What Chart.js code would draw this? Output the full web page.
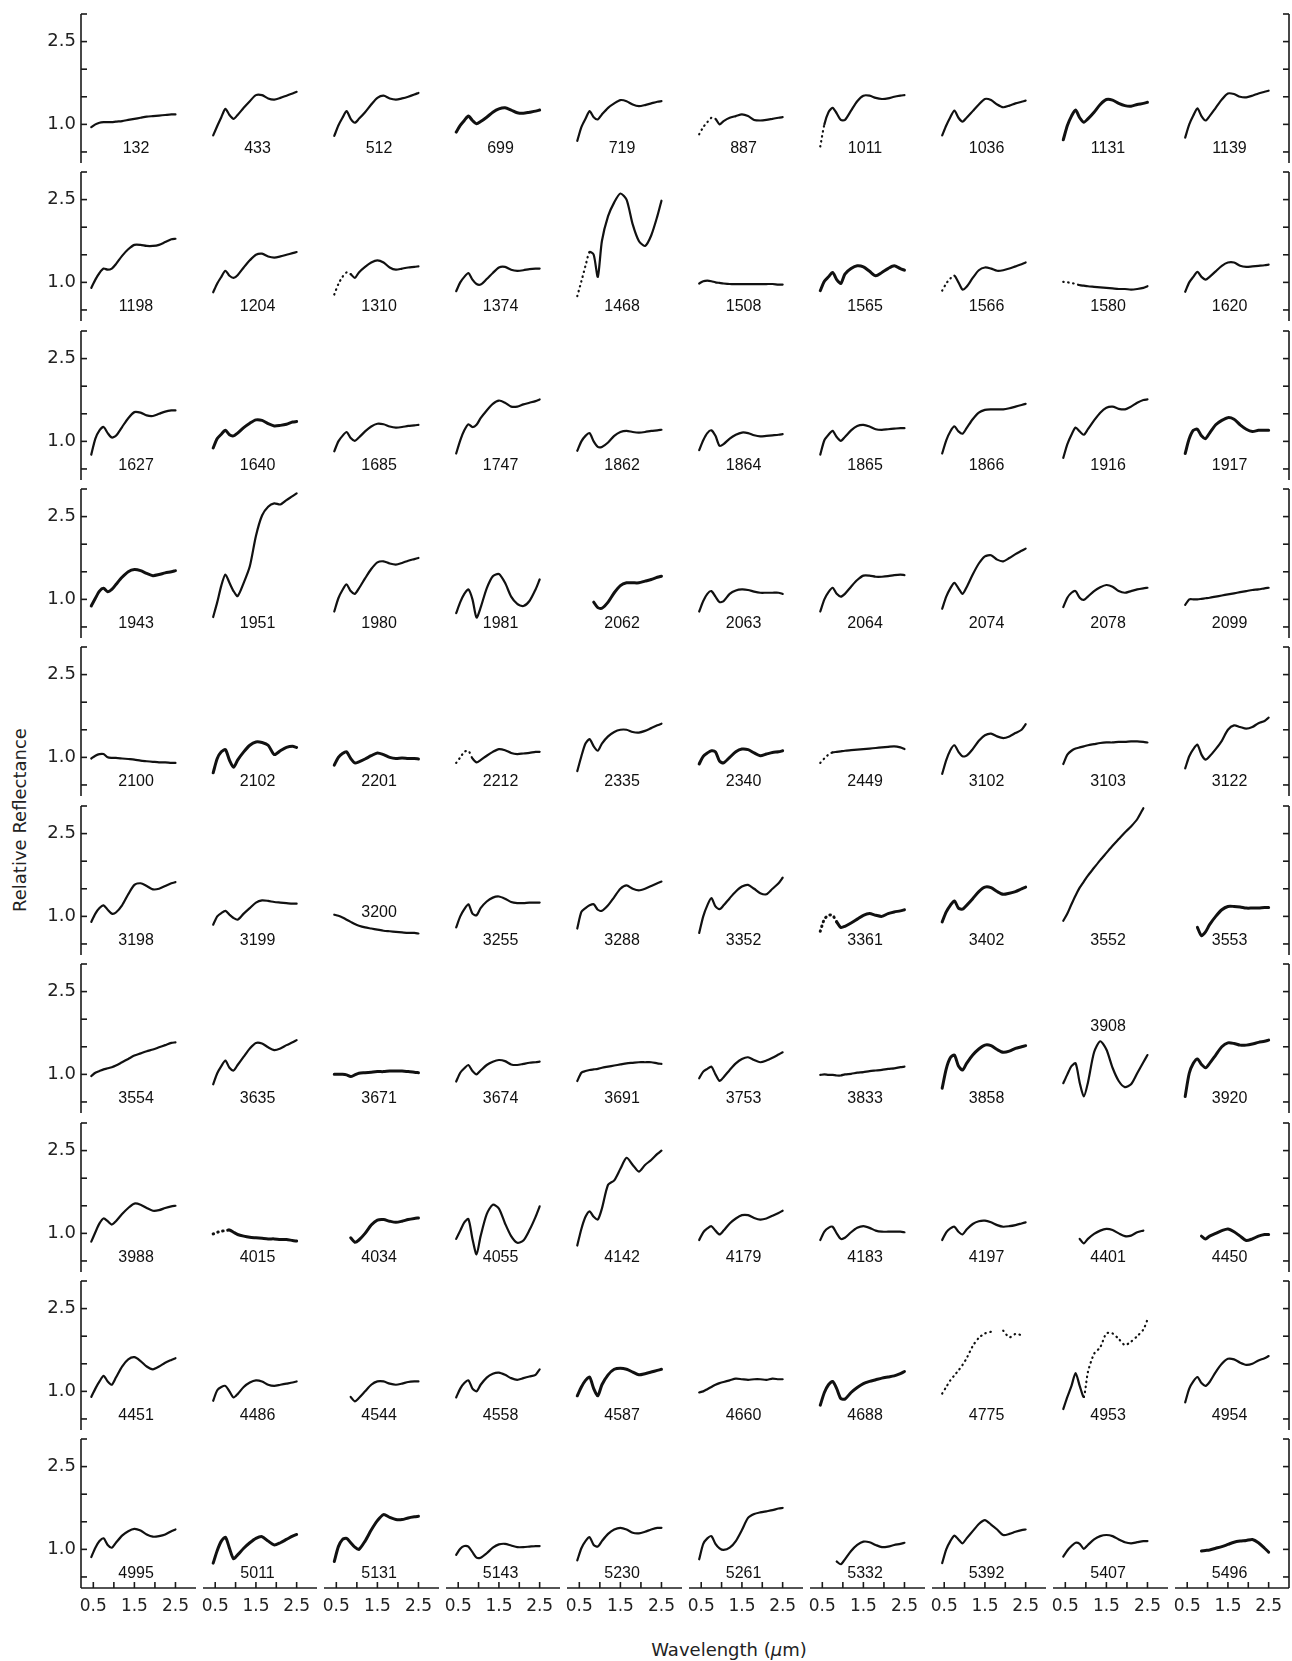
<!DOCTYPE html>
<html>
<head>
<meta charset="utf-8">
<script src="https://cdn.jsdelivr.net/npm/chart.js@4.4.1/dist/chart.umd.min.js"></script>
<style>
  body { margin: 0; background: #fff; }
  #fig { position: relative; width: 1292px; height: 1661px; overflow: hidden; }
  #fig canvas { position: absolute; }
  .title { position: absolute; font-family: 'DejaVu Sans', sans-serif; font-size: 18px; color: #222; white-space: nowrap; }
</style>
</head>
<body>
<div id="fig">
  <div class="title" id="ytitle" style="left:19px;top:820px;transform:translate(-50%,-50%) rotate(-90deg);">Relative Reflectance</div>
  <div class="title" id="xtitle" style="left:729px;top:1649px;transform:translate(-50%,-50%);">Wavelength (<i>μ</i>m)</div>
</div>
<script>
// wavelength grid (micron) shared by all spectra
var wl = [0.45, 0.55, 0.65, 0.75, 0.85, 0.95, 1.05, 1.2, 1.35, 1.5, 1.65, 1.8, 1.95, 2.1, 2.25, 2.4, 2.5];

// asteroid numbers, row by row
var asteroids = [
  132, 433, 512, 699, 719, 887, 1011, 1036, 1131, 1139,
  1198, 1204, 1310, 1374, 1468, 1508, 1565, 1566, 1580, 1620,
  1627, 1640, 1685, 1747, 1862, 1864, 1865, 1866, 1916, 1917,
  1943, 1951, 1980, 1981, 2062, 2063, 2064, 2074, 2078, 2099,
  2100, 2102, 2201, 2212, 2335, 2340, 2449, 3102, 3103, 3122,
  3198, 3199, 3200, 3255, 3288, 3352, 3361, 3402, 3552, 3553,
  3554, 3635, 3671, 3674, 3691, 3753, 3833, 3858, 3908, 3920,
  3988, 4015, 4034, 4055, 4142, 4179, 4183, 4197, 4401, 4450,
  4451, 4486, 4544, 4558, 4587, 4660, 4688, 4775, 4953, 4954,
  4995, 5011, 5131, 5143, 5230, 5261, 5332, 5392, 5407, 5496
];

// relative reflectance on the wl grid, one row of panels per array
var row1 = [
  [0.95, 1.0, 1.03, 1.04, 1.04, 1.04, 1.05, 1.06, 1.08, 1.1, 1.12, 1.14, 1.15, 1.16, 1.17, 1.18, 1.18],
  [0.8, 0.97, 1.13, 1.28, 1.17, 1.1, 1.17, 1.3, 1.42, 1.53, 1.53, 1.47, 1.45, 1.48, 1.52, 1.56, 1.59],
  [0.79, 0.98, 1.12, 1.24, 1.1, 1.03, 1.1, 1.22, 1.36, 1.48, 1.52, 1.47, 1.45, 1.47, 1.5, 1.54, 1.57],
  [0.86, 0.98, 1.07, 1.15, 1.07, 1.01, 1.05, 1.13, 1.22, 1.28, 1.3, 1.26, 1.21, 1.2, 1.22, 1.24, 1.26],
  [0.7, 0.95, 1.1, 1.24, 1.13, 1.09, 1.18, 1.3, 1.38, 1.44, 1.42, 1.36, 1.33, 1.35, 1.38, 1.41, 1.42],
  [0.82, 0.95, 1.04, 1.12, 1.1, 1.0, 1.06, 1.12, 1.15, 1.18, 1.15, 1.08, 1.07, 1.08, 1.1, 1.12, 1.13],
  [0.6, 1.0, 1.22, 1.3, 1.2, 1.08, 1.08, 1.25, 1.42, 1.52, 1.52, 1.48, 1.46, 1.47, 1.5, 1.52, 1.53],
  [0.8, 0.98, 1.13, 1.25, 1.12, 1.05, 1.12, 1.24, 1.36, 1.46, 1.44, 1.36, 1.31, 1.34, 1.38, 1.41, 1.43],
  [0.72, 0.98, 1.15, 1.26, 1.12, 1.04, 1.1, 1.22, 1.36, 1.45, 1.44, 1.38, 1.34, 1.33, 1.36, 1.38, 1.4],
  [0.76, 1.0, 1.16, 1.29, 1.15, 1.07, 1.15, 1.3, 1.45, 1.56, 1.55, 1.5, 1.49, 1.52, 1.56, 1.59, 1.61]
];
var row2 = [
  [0.9, 1.05, 1.17, 1.25, 1.23, 1.25, 1.33, 1.48, 1.6, 1.68, 1.68, 1.66, 1.66, 1.68, 1.73, 1.78, 1.79],
  [0.82, 0.98, 1.1, 1.21, 1.12, 1.08, 1.13, 1.27, 1.4, 1.5, 1.52, 1.47, 1.45, 1.47, 1.5, 1.53, 1.55],
  [0.78, 0.97, 1.1, 1.18, 1.15, 1.08, 1.18, 1.28, 1.36, 1.4, 1.36, 1.27, 1.23, 1.25, 1.27, 1.28, 1.29],
  [0.84, 1.0, 1.1, 1.17, 1.05, 0.97, 0.96, 1.06, 1.17, 1.27, 1.28, 1.23, 1.21, 1.22, 1.24, 1.25, 1.25],
  [0.75, 1.02, 1.3, 1.55, 1.5, 1.1, 1.75, 2.2, 2.45, 2.61, 2.5, 2.05, 1.75, 1.66, 1.85, 2.2, 2.48],
  [0.98, 1.02, 1.03, 1.02, 1.0, 0.99, 0.98, 0.97, 0.97, 0.97, 0.97, 0.97, 0.97, 0.97, 0.97, 0.96, 0.96],
  [0.85, 1.02, 1.1, 1.18, 1.05, 0.98, 1.15, 1.25, 1.3, 1.28, 1.2, 1.12, 1.18, 1.25, 1.3, 1.25, 1.22],
  [0.85, 0.98, 1.07, 1.12, 1.0, 0.87, 0.92, 1.08, 1.22, 1.27, 1.25, 1.21, 1.22, 1.25, 1.29, 1.33, 1.36],
  [1.01, 1.0, 0.99, 0.97, 0.95, 0.94, 0.93, 0.92, 0.91, 0.9, 0.89, 0.88, 0.88, 0.87, 0.88, 0.9, 0.93],
  [0.83, 1.0, 1.1, 1.19, 1.1, 1.05, 1.1, 1.2, 1.3, 1.36, 1.36, 1.3, 1.28, 1.29, 1.3, 1.31, 1.32]
];
var row3 = [
  [0.76, 1.05, 1.2, 1.26, 1.15, 1.07, 1.1, 1.26, 1.42, 1.53, 1.52, 1.47, 1.46, 1.5, 1.54, 1.56, 1.56],
  [0.88, 1.05, 1.13, 1.2, 1.12, 1.1, 1.15, 1.25, 1.33, 1.39, 1.38, 1.32, 1.28, 1.29, 1.31, 1.35, 1.36],
  [0.82, 1.0, 1.1, 1.17, 1.06, 1.01, 1.07, 1.18, 1.27, 1.32, 1.31, 1.27, 1.25, 1.26, 1.28, 1.29, 1.3],
  [0.78, 1.02, 1.2, 1.31, 1.26, 1.3, 1.42, 1.56, 1.68, 1.74, 1.7, 1.63, 1.63, 1.67, 1.7, 1.73, 1.76],
  [0.83, 1.0, 1.1, 1.15, 1.0, 0.9, 0.9, 0.98, 1.1, 1.17, 1.19, 1.17, 1.16, 1.17, 1.19, 1.2, 1.21],
  [0.84, 1.02, 1.15, 1.2, 1.1, 0.92, 0.95, 1.05, 1.12, 1.16, 1.15, 1.11, 1.09, 1.1, 1.11, 1.12, 1.13],
  [0.76, 1.02, 1.12, 1.19, 1.08, 1.01, 1.08, 1.2, 1.28, 1.3, 1.27, 1.22, 1.21, 1.22, 1.23, 1.24, 1.24],
  [0.78, 1.02, 1.18, 1.27, 1.18, 1.14, 1.24, 1.4, 1.52, 1.57, 1.58, 1.58, 1.58, 1.6, 1.63, 1.66, 1.68],
  [0.7, 0.95, 1.12, 1.25, 1.18, 1.12, 1.22, 1.38, 1.52, 1.61, 1.63, 1.59, 1.58, 1.63, 1.7, 1.75, 1.76],
  [0.78, 1.05, 1.2, 1.22, 1.1, 1.05, 1.15, 1.3, 1.38, 1.43, 1.4, 1.3, 1.22, 1.18, 1.2, 1.2, 1.2]
];
var row4 = [
  [0.88, 1.02, 1.15, 1.2, 1.14, 1.18, 1.27, 1.4, 1.5, 1.54, 1.52, 1.47, 1.43, 1.45, 1.48, 1.5, 1.52],
  [0.68, 0.95, 1.25, 1.45, 1.3, 1.15, 1.06, 1.3, 1.6, 2.15, 2.52, 2.68, 2.74, 2.72, 2.8, 2.87, 2.92],
  [0.78, 1.02, 1.17, 1.27, 1.15, 1.1, 1.2, 1.38, 1.55, 1.67, 1.69, 1.65, 1.63, 1.66, 1.7, 1.73, 1.75],
  [0.75, 0.95, 1.1, 1.18, 1.0, 0.67, 0.85, 1.2, 1.42, 1.46, 1.3, 1.05, 0.92, 0.88, 0.97, 1.18, 1.36],
  [null, null, null, null, 0.95, 0.85, 0.84, 0.95, 1.12, 1.25, 1.3, 1.3, 1.3, 1.33, 1.36, 1.4, 1.42],
  [0.78, 0.97, 1.1, 1.15, 1.05, 0.95, 0.97, 1.1, 1.16, 1.18, 1.17, 1.14, 1.12, 1.12, 1.12, 1.12, 1.1],
  [0.78, 1.0, 1.13, 1.21, 1.1, 1.05, 1.1, 1.23, 1.35, 1.43, 1.43, 1.41, 1.41, 1.42, 1.44, 1.45, 1.44],
  [0.83, 1.05, 1.2, 1.3, 1.2, 1.1, 1.22, 1.45, 1.65, 1.78, 1.8, 1.72, 1.69, 1.75, 1.82, 1.88, 1.92],
  [0.86, 1.03, 1.12, 1.15, 1.03, 0.99, 1.05, 1.15, 1.22, 1.26, 1.23, 1.15, 1.12, 1.15, 1.18, 1.2, 1.21],
  [0.9, 1.0, 1.0, 1.0, 1.01, 1.02, 1.03, 1.05, 1.07, 1.09, 1.11, 1.13, 1.15, 1.17, 1.18, 1.2, 1.21]
];
var row5 = [
  [0.98, 1.03, 1.06, 1.06, 1.0, 0.99, 0.99, 0.98, 0.97, 0.96, 0.94, 0.93, 0.92, 0.91, 0.91, 0.9, 0.9],
  [0.72, 0.98, 1.1, 1.14, 0.95, 0.82, 0.95, 1.1, 1.22, 1.28, 1.27, 1.22, 1.05, 1.12, 1.18, 1.2, 1.18],
  [0.86, 1.0, 1.07, 1.1, 0.98, 0.9, 0.92, 0.97, 1.03, 1.08, 1.05, 1.0, 0.98, 0.99, 0.98, 0.98, 0.97],
  [0.9, 1.0, 1.1, 1.12, 0.98, 0.91, 0.95, 1.03, 1.1, 1.15, 1.13, 1.08, 1.06, 1.07, 1.08, 1.1, 1.1],
  [0.75, 1.02, 1.25, 1.33, 1.2, 1.12, 1.25, 1.38, 1.46, 1.5, 1.5, 1.46, 1.45, 1.48, 1.53, 1.58, 1.61],
  [0.88, 1.02, 1.08, 1.12, 1.1, 0.93, 0.9, 1.0, 1.1, 1.15, 1.14, 1.08, 1.03, 1.06, 1.09, 1.1, 1.12],
  [0.9, 0.98, 1.05, 1.09, 1.1, 1.11, 1.12, 1.13, 1.14, 1.15, 1.16, 1.17, 1.18, 1.19, 1.2, 1.18, 1.15],
  [0.7, 0.95, 1.13, 1.22, 1.1, 1.02, 1.03, 1.15, 1.3, 1.4, 1.43, 1.38, 1.35, 1.38, 1.44, 1.5, 1.6],
  [0.88, 1.05, 1.12, 1.16, 1.18, 1.2, 1.22, 1.24, 1.26, 1.27, 1.27, 1.28, 1.28, 1.29, 1.29, 1.28, 1.27],
  [0.8, 1.02, 1.15, 1.23, 1.05, 0.96, 1.02, 1.15, 1.3, 1.5, 1.58, 1.55, 1.52, 1.55, 1.62, 1.66, 1.72]
];
var row6 = [
  [0.9, 1.05, 1.15, 1.2, 1.12, 1.05, 1.07, 1.2, 1.4, 1.57, 1.6, 1.55, 1.49, 1.5, 1.55, 1.6, 1.62],
  [0.85, 1.0, 1.06, 1.1, 1.03, 0.97, 0.94, 1.05, 1.15, 1.25, 1.29, 1.28, 1.26, 1.25, 1.24, 1.23, 1.23],
  [1.03, 1.01, 0.98, 0.94, 0.9, 0.86, 0.83, 0.8, 0.78, 0.76, 0.74, 0.73, 0.72, 0.71, 0.7, 0.7, 0.69],
  [0.8, 1.0, 1.13, 1.22, 1.05, 1.02, 1.15, 1.27, 1.34, 1.36, 1.32, 1.26, 1.24, 1.24, 1.25, 1.25, 1.25],
  [0.78, 1.08, 1.15, 1.2, 1.22, 1.12, 1.1, 1.2, 1.35, 1.5, 1.56, 1.5, 1.47, 1.5, 1.55, 1.6, 1.63],
  [0.7, 1.0, 1.2, 1.33, 1.18, 1.13, 1.2, 1.33, 1.45, 1.54, 1.57, 1.5, 1.42, 1.4, 1.5, 1.6, 1.7],
  [0.73, 0.95, 1.02, 1.02, 0.9, 0.8, 0.82, 0.88, 0.95, 1.02, 1.05, 1.02, 1.0, 1.05, 1.08, 1.1, 1.12],
  [0.9, 1.08, 1.2, 1.28, 1.15, 1.13, 1.2, 1.32, 1.45, 1.53, 1.52, 1.45, 1.4, 1.42, 1.45, 1.5, 1.53],
  [0.92, 1.05, 1.22, 1.38, 1.52, 1.63, 1.74, 1.88, 2.02, 2.15, 2.28, 2.4, 2.52, 2.63, 2.76, 2.96, null],
  [null, null, null, 0.8, 0.65, 0.72, 0.85, 1.0, 1.12, 1.18, 1.18, 1.17, 1.15, 1.15, 1.15, 1.16, 1.16]
];
var row7 = [
  [0.97, 1.03, 1.06, 1.09, 1.11, 1.13, 1.16, 1.22, 1.28, 1.34, 1.38, 1.42, 1.45, 1.49, 1.53, 1.57, 1.58],
  [0.82, 1.02, 1.15, 1.25, 1.12, 1.07, 1.17, 1.32, 1.47, 1.57, 1.56, 1.49, 1.44, 1.47, 1.53, 1.58, 1.62],
  [1.0, 1.0, 1.0, 0.99, 0.96, 0.99, 1.02, 1.03, 1.04, 1.05, 1.05, 1.06, 1.06, 1.06, 1.05, 1.04, 1.03],
  [0.87, 1.03, 1.11, 1.17, 1.06, 1.0, 1.07, 1.17, 1.23, 1.26, 1.24, 1.18, 1.17, 1.19, 1.21, 1.22, 1.23],
  [0.88, 1.03, 1.06, 1.08, 1.09, 1.1, 1.12, 1.14, 1.16, 1.18, 1.2, 1.21, 1.22, 1.22, 1.22, 1.2, 1.19],
  [0.93, 1.05, 1.1, 1.14, 1.0, 0.88, 0.95, 1.08, 1.2, 1.28, 1.31, 1.26, 1.22, 1.25, 1.3, 1.36, 1.4],
  [0.99, 1.0, 0.99, 0.99, 0.98, 0.98, 1.0, 1.01, 1.03, 1.04, 1.06, 1.07, 1.08, 1.1, 1.11, 1.13, 1.14],
  [0.75, 1.1, 1.3, 1.35, 1.15, 1.08, 1.2, 1.35, 1.46, 1.53, 1.52, 1.45, 1.4, 1.42, 1.47, 1.5, 1.52],
  [0.84, 1.0, 1.15, 1.2, 0.85, 0.6, 0.85, 1.4, 1.6, 1.45, 1.12, 0.88, 0.77, 0.82, 1.02, 1.22, 1.35],
  [0.6, 1.02, 1.2, 1.28, 1.18, 1.12, 1.2, 1.35, 1.5, 1.57, 1.56, 1.53, 1.53, 1.55, 1.58, 1.6, 1.62]
];
var row8 = [
  [0.85, 1.02, 1.18, 1.27, 1.22, 1.16, 1.22, 1.35, 1.46, 1.54, 1.52, 1.46, 1.41, 1.42, 1.46, 1.49, 1.5],
  [0.99, 1.02, 1.04, 1.05, 1.06, 1.02, 0.98, 0.95, 0.93, 0.92, 0.91, 0.9, 0.9, 0.89, 0.89, 0.87, 0.86],
  [null, null, null, null, 0.92, 0.84, 0.88, 1.0, 1.15, 1.24, 1.25, 1.22, 1.2, 1.22, 1.25, 1.27, 1.28],
  [0.9, 1.05, 1.2, 1.26, 0.9, 0.62, 0.95, 1.35, 1.52, 1.45, 1.18, 0.95, 0.83, 0.87, 1.06, 1.3, 1.49],
  [0.78, 1.08, 1.3, 1.4, 1.3, 1.25, 1.45, 1.88, 1.96, 2.17, 2.37, 2.24, 2.12, 2.24, 2.33, 2.44, 2.5],
  [0.88, 1.02, 1.09, 1.13, 1.05, 0.98, 1.05, 1.18, 1.27, 1.33, 1.33, 1.28, 1.25, 1.27, 1.32, 1.37, 1.41],
  [0.88, 1.03, 1.1, 1.12, 1.0, 0.9, 0.92, 1.02, 1.1, 1.13, 1.1, 1.05, 1.03, 1.03, 1.03, 1.03, 1.02],
  [0.88, 1.02, 1.09, 1.12, 1.03, 0.98, 1.07, 1.17, 1.22, 1.23, 1.2, 1.15, 1.12, 1.13, 1.15, 1.18, 1.2],
  [null, null, null, null, 0.9, 0.82, 0.9, 0.99, 1.05, 1.08, 1.06, 1.0, 0.95, 0.96, 1.02, 1.05, null],
  [null, null, null, null, 0.95, 0.9, 0.95, 1.0, 1.05, 1.08, 1.03, 0.95, 0.87, 0.9, 0.95, 0.98, 0.98]
];
var row9 = [
  [0.9, 1.05, 1.18, 1.28, 1.18, 1.12, 1.25, 1.45, 1.58, 1.62, 1.55, 1.45, 1.4, 1.45, 1.52, 1.57, 1.6],
  [0.83, 1.02, 1.08, 1.1, 1.0, 0.89, 0.95, 1.08, 1.16, 1.2, 1.18, 1.12, 1.1, 1.12, 1.14, 1.16, 1.18],
  [null, null, null, null, 0.9, 0.82, 0.88, 1.0, 1.12, 1.18, 1.18, 1.14, 1.12, 1.14, 1.17, 1.18, 1.18],
  [0.89, 1.05, 1.15, 1.2, 1.05, 1.0, 1.12, 1.25, 1.32, 1.34, 1.3, 1.24, 1.21, 1.24, 1.27, 1.3, 1.4],
  [0.92, 1.08, 1.2, 1.26, 1.05, 0.92, 1.12, 1.3, 1.4, 1.42, 1.4, 1.35, 1.3, 1.32, 1.35, 1.38, 1.4],
  [0.98, 1.0, 1.04, 1.08, 1.12, 1.15, 1.17, 1.2, 1.23, 1.22, 1.21, 1.22, 1.22, 1.21, 1.23, 1.22, 1.22],
  [0.75, 0.98, 1.12, 1.18, 1.05, 0.87, 0.86, 0.98, 1.07, 1.14, 1.18, 1.21, 1.24, 1.26, 1.28, 1.32, 1.36],
  [0.96, 1.08, 1.2, 1.29, 1.38, 1.48, 1.6, 1.82, 1.97, 2.05, 2.08, null, 2.1, 1.98, 2.04, 2.02, null],
  [0.68, 0.9, 1.1, 1.33, 1.1, 0.9, 1.35, 1.68, 1.8, 2.05, 2.05, 1.95, 1.84, 1.9, 2.0, 2.12, 2.3],
  [0.8, 1.05, 1.18, 1.26, 1.15, 1.1, 1.17, 1.35, 1.5, 1.59, 1.58, 1.52, 1.48, 1.5, 1.56, 1.6, 1.64]
];
var row10 = [
  [0.86, 1.03, 1.15, 1.2, 1.08, 1.03, 1.12, 1.25, 1.33, 1.37, 1.34, 1.27, 1.23, 1.24, 1.27, 1.33, 1.36],
  [0.75, 0.98, 1.15, 1.22, 1.02, 0.83, 0.9, 1.02, 1.12, 1.2, 1.23, 1.15, 1.08, 1.12, 1.18, 1.24, 1.27],
  [0.78, 1.05, 1.18, 1.2, 1.12, 1.04, 1.0, 1.15, 1.35, 1.52, 1.63, 1.58, 1.54, 1.54, 1.57, 1.59, 1.6],
  [0.9, 1.01, 1.06, 1.05, 0.95, 0.85, 0.85, 0.93, 1.03, 1.09, 1.1, 1.07, 1.04, 1.04, 1.05, 1.06, 1.06],
  [0.8, 1.02, 1.15, 1.22, 1.08, 1.05, 1.15, 1.28, 1.36, 1.39, 1.36, 1.3, 1.29, 1.32, 1.36, 1.39, 1.39],
  [0.82, 1.1, 1.2, 1.24, 1.1, 1.02, 0.99, 1.03, 1.15, 1.35, 1.57, 1.64, 1.67, 1.69, 1.71, 1.74, 1.75],
  [null, null, null, null, 0.78, 0.73, 0.82, 0.97, 1.08, 1.14, 1.13, 1.08, 1.04, 1.05, 1.08, 1.1, 1.12],
  [0.75, 1.0, 1.15, 1.25, 1.18, 1.11, 1.2, 1.33, 1.46, 1.53, 1.45, 1.36, 1.26, 1.28, 1.32, 1.35, 1.36],
  [0.87, 0.98, 1.06, 1.12, 1.1, 1.01, 1.08, 1.18, 1.24, 1.26, 1.24, 1.18, 1.13, 1.11, 1.13, 1.15, 1.15],
  [null, null, null, null, 0.97, 0.98, 0.99, 1.02, 1.05, 1.09, 1.13, 1.15, 1.16, 1.18, 1.12, 1.02, 0.95]
];
var rows = [row1, row2, row3, row4, row5, row6, row7, row8, row9, row10];

// spectra drawn with a thicker, scattered-looking trace
var noisy = [699, 1131, 1565, 1640, 1917, 1943, 2062, 2102, 2201, 2340, 3361, 3402, 3553, 3671,
             3858, 3920, 4015, 4034, 4450, 4587, 4688, 5011, 5131, 5496];
// wavelength ranges where only a few sparse points exist: [asteroid, from, to]
var sparse = [[887, 0.4, 0.85], [1011, 0.4, 0.55], [1310, 0.4, 0.85], [1468, 0.4, 0.75],
              [1566, 0.4, 0.8], [1580, 0.4, 0.85], [2212, 0.4, 0.85], [2449, 0.4, 0.75],
              [3361, 0.4, 0.85], [4015, 0.4, 0.85], [4775, 0.4, 2.6], [4953, 0.95, 2.6]];
// labels that sit higher than the usual level
var raised = [3200, 3908];
var raisedY = [1.07, 1.87];

// axes
var xTicks = [0.5, 1.0, 1.5, 2.0, 2.5];
var xLabels = [0.5, 1.5, 2.5];
var yTicks = [0.5, 1.0, 1.5, 2.0, 2.5, 3.0];
var yLabels = [1.0, 2.5];

var LEFT = 81, TOP = 13.7, PW = 114.5, PH = 149, DX = 121.55, DY = 158.4;
var fig = document.getElementById('fig');

// spines with inward ticks + the asteroid number
var frame = {
    id: 'frame',
    afterDraw: function (chart, args, o) {
        var ctx = chart.ctx, a = chart.chartArea, x = chart.scales.x, y = chart.scales.y;
        ctx.save();
        ctx.strokeStyle = '#1a1a1a';
        ctx.lineWidth = 1.6;
        function seg(x0, y0, x1, y1) { ctx.beginPath(); ctx.moveTo(x0, y0); ctx.lineTo(x1, y1); ctx.stroke(); }
        if (o.left) {
            seg(a.left, a.top, a.left, a.bottom);
            yTicks.forEach(function (v) { var p = y.getPixelForValue(v); seg(a.left, p, a.left + 6, p); });
        }
        if (o.right) {
            seg(a.right, a.top, a.right, a.bottom);
            yTicks.forEach(function (v) { var p = y.getPixelForValue(v); seg(a.right, p, a.right - 6, p); });
        }
        if (o.bottom) {
            seg(a.left, a.bottom, a.right, a.bottom);
            xTicks.forEach(function (v) { var p = x.getPixelForValue(v); seg(p, a.bottom, p, a.bottom - 6); });
        }
        ctx.fillStyle = '#111';
        ctx.font = '16px "Liberation Sans", Arial, sans-serif';
        ctx.textAlign = 'center';
        ctx.textBaseline = 'middle';
        ctx.fillText(o.label, x.getPixelForValue(1.54), y.getPixelForValue(o.labelY));
        ctx.restore();
    }
};

rows.forEach(function (row, r) {
    row.forEach(function (refl, c) {
        var id = asteroids[r * 10 + c];
        var x0 = Math.round(LEFT + c * DX), x1 = Math.round(LEFT + c * DX + PW);
        var y0 = Math.round(TOP + r * DY), y1 = Math.round(TOP + r * DY + PH);
        var padL = c === 0 ? 70 : 4, padB = r === 9 ? 40 : 4, pad = 4;
        var w = x1 - x0 + padL + pad, h = y1 - y0 + pad + padB;
        var cv = document.createElement('canvas');
        cv.width = w; cv.height = h;
        cv.style.left = (x0 - padL) + 'px';
        cv.style.top = (y0 - pad) + 'px';
        cv.style.width = w + 'px';
        cv.style.height = h + 'px';
        fig.appendChild(cv);

        var pts = wl.map(function (v, i) { return { x: v, y: refl[i] }; });
        var run = sparse.filter(function (s) { return s[0] === id; })[0];
        var ri = raised.indexOf(id);

        new Chart(cv.getContext('2d'), {
            type: 'line',
            data: {
                datasets: [{
                    data: pts,
                    borderColor: '#111',
                    borderWidth: noisy.indexOf(id) >= 0 ? 3.0 : 2.2,
                    borderCapStyle: 'round',
                    borderJoinStyle: 'round',
                    pointRadius: 0,
                    tension: 0.25,
                    spanGaps: false,
                    segment: {
                        borderDash: function (s) {
                            if (run && s.p0.parsed.x >= run[1] - 1e-6 && s.p1.parsed.x <= run[2] + 1e-6) return [0.5, 4.5];
                            return undefined;
                        }
                    }
                }]
            },
            options: {
                responsive: false,
                animation: false,
                events: [],
                layout: { autoPadding: false, padding: { left: 4, right: 4, top: 4, bottom: 4 } },
                plugins: {
                    legend: { display: false },
                    tooltip: { enabled: false },
                    frame: { left: c === 0, right: c === 9, bottom: r === 9, label: String(id), labelY: ri >= 0 ? raisedY[ri] : 0.565 }
                },
                scales: {
                    x: {
                        type: 'linear', min: 0.2, max: 3.0,
                        display: r === 9,
                        afterFit: function (s) { s.height = padB - 4; s.paddingLeft = 0; s.paddingRight = 0; },
                        afterBuildTicks: function (s) { s.ticks = xTicks.map(function (v) { return { value: v }; }); },
                        grid: { display: false, drawTicks: false },
                        border: { display: false },
                        ticks: {
                            autoSkip: false, maxRotation: 0, padding: 8, color: '#222',
                            font: { family: 'DejaVu Sans', size: 17 },
                            callback: function (v) { return xLabels.indexOf(v) >= 0 ? v.toFixed(1) : null; }
                        }
                    },
                    y: {
                        type: 'linear', min: 0.3, max: 3.0,
                        display: c === 0,
                        afterFit: function (s) { s.width = padL - 4; s.paddingTop = 0; s.paddingBottom = 0; },
                        afterBuildTicks: function (s) { s.ticks = yTicks.map(function (v) { return { value: v }; }); },
                        grid: { display: false, drawTicks: false },
                        border: { display: false },
                        ticks: {
                            autoSkip: false, padding: 5, color: '#222',
                            font: { family: 'DejaVu Sans', size: 18 },
                            callback: function (v) { return yLabels.indexOf(v) >= 0 ? v.toFixed(1) : null; }
                        }
                    }
                }
            },
            plugins: [frame]
        });
    });
});
</script>
</body>
</html>
